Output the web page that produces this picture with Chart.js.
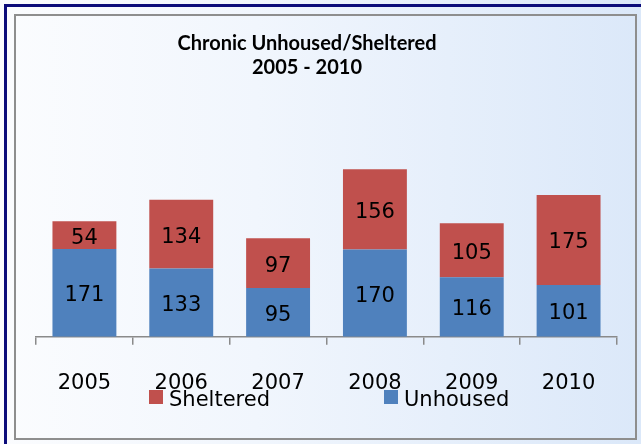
<!DOCTYPE html>
<html>
<head>
<meta charset="utf-8">
<script src="https://cdn.jsdelivr.net/npm/chart.js@4"></script>
<style>
  html, body { margin: 0; padding: 0; }
  body { width: 641px; height: 444px; position: relative; overflow: hidden;
         background: linear-gradient(to right, #fbfcfe 0%, #f1f6fd 40%, #dbe8f9 100%); }
  #navy { position: absolute; left: 4px; top: 4px; width: 640px; height: 445px;
          border-left: 3px solid #0c0c7a; border-top: 3px solid #0c0c7a; box-sizing: border-box; }
  #frame { position: absolute; left: 14px; top: 14px; width: 623px; height: 426px;
           border: 2px solid #8e8e8e; box-sizing: border-box; }
  #wrap { position: absolute; left: 0; top: 0; width: 641px; height: 444px; }
</style>
</head>
<body>
<div id="navy"></div>
<div id="frame"></div>
<div id="wrap"><canvas id="c" width="641" height="444"></canvas></div>
<script>
const categories = ['2005', '2006', '2007', '2008', '2009', '2010'];
const unhoused = [171, 133, 95, 170, 116, 101];
const sheltered = [54, 134, 97, 156, 105, 175];
const titleLines = ['Chronic Unhoused/Sheltered', '2005 - 2010'];
const seriesNames = ['Unhoused', 'Sheltered'];
const seriesColors = ['#4f81bd', '#c0504d'];

const FONT = "'DejaVu Sans', sans-serif";

const valueLabels = {
  id: 'valueLabels',
  afterDatasetsDraw(chart) {
    const ctx = chart.ctx;
    ctx.save();
    ctx.font = '21px ' + FONT;
    ctx.fillStyle = '#000';
    ctx.textAlign = 'center';
    ctx.textBaseline = 'middle';
    chart.data.datasets.forEach((ds, di) => {
      const meta = chart.getDatasetMeta(di);
      meta.data.forEach((el, i) => {
        const y = (el.y + el.base) / 2 + 3;
        ctx.fillText(String(ds.data[i]), el.x, y);
      });
    });
    ctx.restore();
  }
};

const customLegend = {
  id: 'customLegend',
  afterDraw(chart, args, opts) {
    const ctx = chart.ctx;
    ctx.save();
    ctx.font = '21px ' + FONT;
    ctx.textBaseline = 'middle';
    ctx.textAlign = 'left';
    const order = [1, 0];
    order.forEach((di, k) => {
      const ds = chart.data.datasets[di];
      const x = opts.starts[k];
      ctx.fillStyle = ds.backgroundColor;
      ctx.fillRect(x, opts.boxTop, 14, 14);
      ctx.fillStyle = '#000';
      ctx.fillText(ds.label, x + 20, opts.textY);
    });
    ctx.restore();
  }
};

// Shift the title so it is centred on the whole frame, not the plot.
const titleShift = {
  id: 'titleShift',
  afterLayout(chart, args, opts) {
    if (chart.titleBlock) {
      chart.titleBlock.left += opts.dx;
      chart.titleBlock.right += opts.dx;
    }
  }
};

new Chart(document.getElementById('c'), {
  type: 'bar',
  data: {
    labels: categories,
    datasets: [
      { label: seriesNames[0], data: unhoused, backgroundColor: seriesColors[0],
        barPercentage: 0.66, categoryPercentage: 1.0 },
      { label: seriesNames[1], data: sheltered, backgroundColor: seriesColors[1],
        barPercentage: 0.66, categoryPercentage: 1.0 }
    ]
  },
  options: {
    responsive: false,
    animation: false,
    events: [],
    layout: { padding: { left: 36, right: 24, top: 0, bottom: 22 } },
    scales: {
      x: {
        stacked: true,
        grid: { offset: true, drawOnChartArea: false, drawTicks: true, tickLength: 8,
                color: '#8a8a8a', lineWidth: 1.5 },
        border: { color: '#8a8a8a', width: 1.5 },
        ticks: { font: { family: FONT, size: 21 }, color: '#000', padding: 26 }
      },
      y: { stacked: true, display: false, min: 0, max: 350 }
    },
    plugins: {
      legend: { display: false },
      tooltip: { enabled: false },
      title: {
        display: true,
        text: titleLines,
        color: '#000',
        font: { family: 'Lato, sans-serif', size: 20, weight: 'bold', lineHeight: 1.2 },
        padding: { top: 32, bottom: 77 }
      },
      titleShift: { dx: -19.5 },
      customLegend: { starts: [149, 384], boxTop: 390, textY: 401 }
    }
  },
  plugins: [valueLabels, customLegend, titleShift]
});
</script>
</body>
</html>
